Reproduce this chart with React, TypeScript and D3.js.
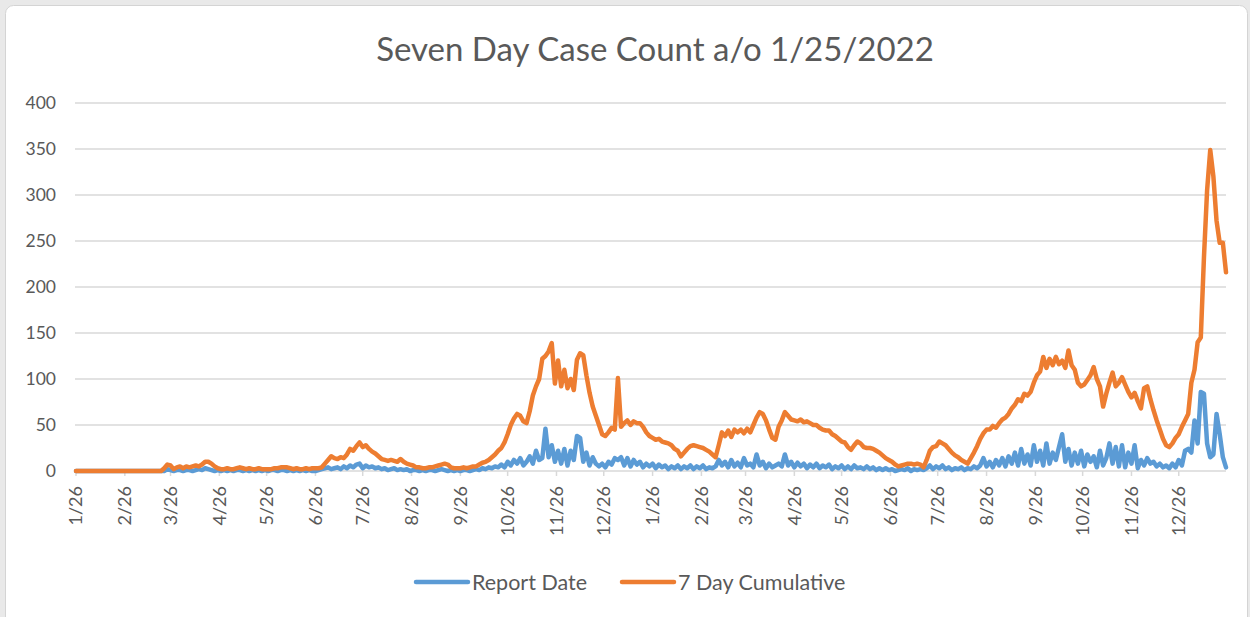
import * as d3 from "d3";

// two-day samples starting 1/26/2020
const startDate = new Date(2020, 0, 26);
const stepDays = 2;

const reportDate = [
  0, 0, 0, 0, 0, 0, 0, 0, 0, 0,
  0, 0, 0, 0, 0, 0, 0, 0, 0, 0,
  0, 0, 0, 0, 0, 0, 0, 0, 0, 2,
  1, 0, 1, 1, 0, 1, 1, 0, 1, 2,
  1, 3, 2, 1, 0, 1, 0, 1, 0, 1,
  0, 1, 1, 0, 1, 0, 1, 0, 1, 0,
  1, 0, 1, 1, 0, 1, 1, 0, 1, 0,
  1, 0, 1, 0, 1, 0, 0, 1, 2, 3,
  4, 2, 3, 4, 2, 5, 3, 6, 4, 7,
  8, 3, 6, 4, 5, 3, 4, 2, 3, 1,
  2, 3, 1, 2, 1, 2, 0, 1, 1, 0,
  1, 0, 1, 1, 0, 1, 2, 1, 0, 1,
  0, 1, 0, 1, 1, 0, 1, 2, 1, 3,
  2, 4, 3, 5, 4, 7, 4, 10, 6, 12,
  8, 14, 6, 10, 16, 8, 22, 12, 14, 46,
  15, 28, 10, 22, 8, 24, 6, 22, 12, 38,
  36, 10, 20, 6, 15, 8, 5, 8, 4, 10,
  7, 14, 12, 15, 6, 14, 5, 12, 7, 10,
  4, 8, 5, 8, 3, 7, 4, 6, 2, 5,
  3, 6, 2, 5, 3, 6, 2, 5, 3, 6,
  2, 4, 3, 5, 12, 6, 10, 4, 12, 5,
  9, 4, 14, 6, 8, 4, 18, 6, 10, 3,
  8, 4, 6, 8, 5, 18, 6, 10, 4, 9,
  5, 8, 3, 7, 4, 8, 3, 6, 4, 7,
  2, 5, 3, 6, 2, 5, 2, 6, 3, 4,
  2, 5, 2, 4, 1, 3, 1, 3, 1, 2,
  0, 1, 2, 1, 3, 0, 2, 1, 2, 1,
  3, 6, 2, 5, 3, 6, 2, 4, 1, 3,
  2, 4, 1, 3, 2, 5, 3, 6, 14, 5,
  10, 4, 12, 6, 14, 5, 16, 8, 20, 6,
  24, 8, 18, 6, 28, 10, 22, 6, 30, 8,
  20, 12, 26, 40, 10, 24, 6, 20, 8, 22,
  5, 18, 10, 16, 4, 22, 6, 14, 30, 8,
  26, 5, 28, 4, 20, 8, 28, 3, 12, 6,
  14, 8, 10, 5, 8, 4, 6, 3, 8, 4,
  12, 6, 22, 24, 20, 55, 30, 86, 84, 30,
  15, 18, 62, 40, 15, 4,
];

const sevenDay = [
  0, 0, 0, 0, 0, 0, 0, 0, 0, 0,
  0, 0, 0, 0, 0, 0, 0, 0, 0, 0,
  0, 0, 0, 0, 0, 0, 0, 0, 3, 7,
  6, 2, 4, 5, 3, 5, 4, 5, 6, 5,
  7, 10, 10, 8, 5, 3, 2, 2, 3, 2,
  2, 3, 4, 3, 2, 3, 2, 2, 3, 2,
  2, 2, 2, 3, 3, 4, 4, 4, 3, 2,
  3, 2, 2, 3, 2, 3, 3, 3, 4, 8,
  12, 16, 14, 13, 15, 14, 18, 24, 22, 27,
  31, 26, 28, 24, 21, 19, 16, 13, 12, 11,
  12, 11, 10, 13, 10, 8, 7, 6, 4, 4,
  3, 3, 4, 4, 5, 6, 7, 8, 7, 4,
  3, 3, 3, 4, 3, 4, 5, 5, 7, 9,
  10, 12, 15, 18, 22, 25, 31, 40, 50, 57,
  62, 60, 54, 52, 65, 82, 92, 100, 122, 125,
  130, 139, 95, 120, 92, 110, 90, 100, 88, 121,
  128, 126, 104, 85, 70, 60, 50, 40, 38, 42,
  47, 45, 101, 48, 52, 55, 50, 54, 52, 52,
  48, 42, 38, 36, 34, 35, 32, 31, 30, 28,
  24, 22, 16, 20, 24, 27, 28, 27, 26, 25,
  23, 21, 18, 15, 28, 42, 38, 44, 37, 45,
  42, 45, 41, 46, 42, 50, 58, 64, 62, 55,
  45, 36, 34, 48, 55, 64, 60, 56, 55, 54,
  56, 53, 54, 52, 50, 50, 47, 45, 44, 44,
  40, 38, 35, 32, 31, 26, 23, 28, 32, 30,
  26, 25, 25, 24, 22, 20, 17, 14, 12, 10,
  7, 5, 6, 7, 8, 8, 7, 8, 7, 4,
  12, 22, 26, 27, 32, 30, 28, 24, 20, 17,
  15, 12, 10, 8, 14, 20, 27, 35, 41, 45,
  45, 49, 47, 52, 56, 58, 62, 68, 72, 78,
  76, 84, 82, 86, 96, 104, 108, 124, 112, 122,
  115, 124, 116, 120, 112, 131, 115, 110, 96, 92,
  94, 99, 104, 113, 100, 92, 70, 84, 96, 107,
  92, 96, 102, 94, 86, 80, 85, 76, 68, 90,
  92, 78, 66, 55, 45, 35, 28, 26, 30, 36,
  40, 48, 55, 62, 96, 110, 140, 145, 232, 305,
  349, 320, 272, 248, 248, 216,
];

const yTicks = [0, 50, 100, 150, 200, 250, 300, 350, 400];
const seriesNames = ["Report Date", "7 Day Cumulative"];
const seriesColors = ["#5b9bd5", "#ed7d31"];

const W = 1250;
const H = 617;
const font = "Lato, 'Open Sans', sans-serif";
const textColor = "#595959";

export default function App() {
  const endDate = new Date(2022, 0, 25);
  const x = d3.scaleTime().domain([startDate, endDate]).range([76, 1226]);
  const y = d3.scaleLinear().domain([0, 400]).range([471, 103]);

  const dateAt = (i: number) => d3.timeDay.offset(startDate, i * stepDays);
  const line = d3
    .line<number>()
    .x((_, i) => x(dateAt(i)))
    .y((d) => y(d));

  const monthTicks = d3.range(24).map((m) => new Date(2020, m, 26));
  const fmt = d3.timeFormat("%-m/%-d");

  return (
    <svg
      width={W}
      height={H}
      style={{ position: "absolute", left: 0, top: 0, display: "block" }}
    >
      <rect x={0} y={0} width={W} height={H} fill="#e9e9e9" />
      <rect x={5.5} y={5.5} width={1242} height={640} rx={8} fill="#fff" stroke="#d4d4d4" />

      <text
        x={655}
        y={61}
        textAnchor="middle"
        fontFamily={font}
        fontSize={33}
        fill={textColor}
      >
        Seven Day Case Count a/o 1/25/2022
      </text>

      {yTicks.map((t) => (
        <g key={t}>
          <line x1={75} x2={1226} y1={y(t)} y2={y(t)} stroke="#d9d9d9" strokeWidth={1.6} />
          <text
            x={56}
            y={y(t)}
            dy="0.35em"
            textAnchor="end"
            fontFamily={font}
            fontSize={17.5}
            fill={textColor}
          >
            {t}
          </text>
        </g>
      ))}

      {monthTicks.map((d, i) => (
        <g key={i} transform={`translate(${x(d)},${y(0)})`}>
          <line y1={0} y2={5} stroke="#d9d9d9" strokeWidth={1.5} />
          <text
            transform="rotate(-90)"
            x={-15}
            dy="0.35em"
            textAnchor="end"
            fontFamily={font}
            fontSize={18}
            fill={textColor}
          >
            {fmt(d)}
          </text>
        </g>
      ))}

      <path d={line(reportDate) ?? ""} fill="none" stroke={seriesColors[0]} strokeWidth={4.5} strokeLinejoin="round" strokeLinecap="round" />
      <path d={line(sevenDay) ?? ""} fill="none" stroke={seriesColors[1]} strokeWidth={4.5} strokeLinejoin="round" strokeLinecap="round" />

      {seriesNames.map((name, i) => {
        const lx = i === 0 ? 416 : 622;
        return (
          <g key={name} transform={`translate(${lx},582)`}>
            <line x1={0} x2={52} stroke={seriesColors[i]} strokeWidth={4.5} strokeLinecap="round" />
            <text x={56} dy="0.35em" fontFamily={font} fontSize={21.5} fill={textColor}>
              {name}
            </text>
          </g>
        );
      })}
    </svg>
  );
}
